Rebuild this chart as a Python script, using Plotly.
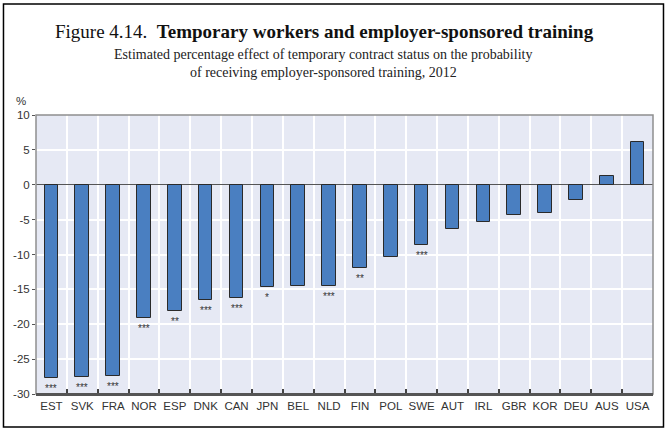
import plotly.graph_objects as go

countries = ["EST", "SVK", "FRA", "NOR", "ESP", "DNK", "CAN", "JPN", "BEL", "NLD",
             "FIN", "POL", "SWE", "AUT", "IRL", "GBR", "KOR", "DEU", "AUS", "USA"]
effect = [-27.7, -27.5, -27.4, -19.1, -18.1, -16.5, -16.3, -14.6, -14.5, -14.5,
          -12.0, -10.4, -8.6, -6.3, -5.4, -4.3, -4.0, -2.2, 1.3, 6.1]
significance = ["***", "***", "***", "***", "**", "***", "***", "*", "", "***",
                "**", "", "***", "", "", "", "", "", "", ""]
y_ticks = [-30, -25, -20, -15, -10, -5, 0, 5, 10]

title_main = "Figure 4.14.  <b>Temporary workers and employer-sponsored training</b>"
subtitle_1 = "Estimated percentage effect of temporary contract status on the probability"
subtitle_2 = "of receiving employer-sponsored training, 2012"

BAR = "#4A7FC1"
tick_font = dict(family="Liberation Sans Narrow, Arial Narrow, Liberation Sans, Arial", size=11.5, color="#333333")

fig = go.Figure()
fig.add_trace(go.Bar(
    x=countries, y=effect, width=0.44,
    marker=dict(color=BAR, line=dict(color="#2a2a2a", width=1)),
    hoverinfo="x+y",
))

for c, v, s in zip(countries, effect, significance):
    if s:
        fig.add_annotation(x=c, y=v, text=s, showarrow=False, yanchor="top", yshift=-3,
                           font=dict(family="Liberation Sans, Arial", size=10, color="#333333"))

fig.update_layout(
    width=668, height=431,
    margin=dict(l=36, r=15, t=115, b=37),
    paper_bgcolor="white", plot_bgcolor="#E6E9F4",
    showlegend=False,
    font=tick_font,
    bargap=0,
)
fig.update_xaxes(
    type="category", tickson="boundaries", showgrid=True, gridcolor="white", gridwidth=1.5,
    ticks="inside", ticklen=5, tickcolor="#444444", tickwidth=1.5,
    showline=True, linecolor="#555555", linewidth=2,
    tickfont=tick_font, tickangle=0, range=[-0.5, len(countries) - 0.5],
)
fig.update_yaxes(
    range=[-30, 10], tickvals=y_ticks, ticktext=[str(t) for t in y_ticks],
    showgrid=True, gridcolor="white", gridwidth=1.5,
    zeroline=True, zerolinecolor="#555555", zerolinewidth=1,
    ticks="outside", ticklen=3, tickcolor="#555555",
    showline=False, tickfont=tick_font,
)

# plot border (top / right / left) in gray
fig.add_shape(type="rect", xref="paper", yref="paper", x0=0, x1=1, y0=0, y1=1,
              line=dict(color="#8f8f8f", width=1.5), layer="above")
# bottom axis line redrawn on top
fig.add_shape(type="line", xref="paper", yref="paper", x0=0, x1=1, y0=0, y1=0,
              line=dict(color="#555555", width=2), layer="above")
# outer frame
fig.add_shape(type="rect", xref="paper", yref="paper",
              x0=-0.0527, x1=1.017, y0=-0.118, y1=1.398,
              line=dict(color="black", width=1.5))

# titles
fig.add_annotation(xref="paper", yref="paper", x=(324 - 36) / 617, y=(394 - 31) / 279,
                   text=title_main, showarrow=False, xanchor="center", yanchor="middle",
                   font=dict(family="Liberation Serif, Times New Roman, serif", size=19, color="#111111"))
fig.add_annotation(xref="paper", yref="paper", x=(323 - 36) / 617, y=(394 - 55) / 279,
                   text=subtitle_1, showarrow=False, xanchor="center", yanchor="middle",
                   font=dict(family="Liberation Serif, Times New Roman, serif", size=14, color="#222222"))
fig.add_annotation(xref="paper", yref="paper", x=(323 - 36) / 617, y=(394 - 73) / 279,
                   text=subtitle_2, showarrow=False, xanchor="center", yanchor="middle",
                   font=dict(family="Liberation Serif, Times New Roman, serif", size=14, color="#222222"))
# unit label
fig.add_annotation(xref="paper", yref="paper", x=(21 - 36) / 617, y=(394 - 101) / 279,
                   text="%", showarrow=False, xanchor="center", yanchor="middle",
                   font=tick_font)

fig.write_html("out.html", config={"displayModeBar": False},
               post_script="document.body.style.margin='0px';")
